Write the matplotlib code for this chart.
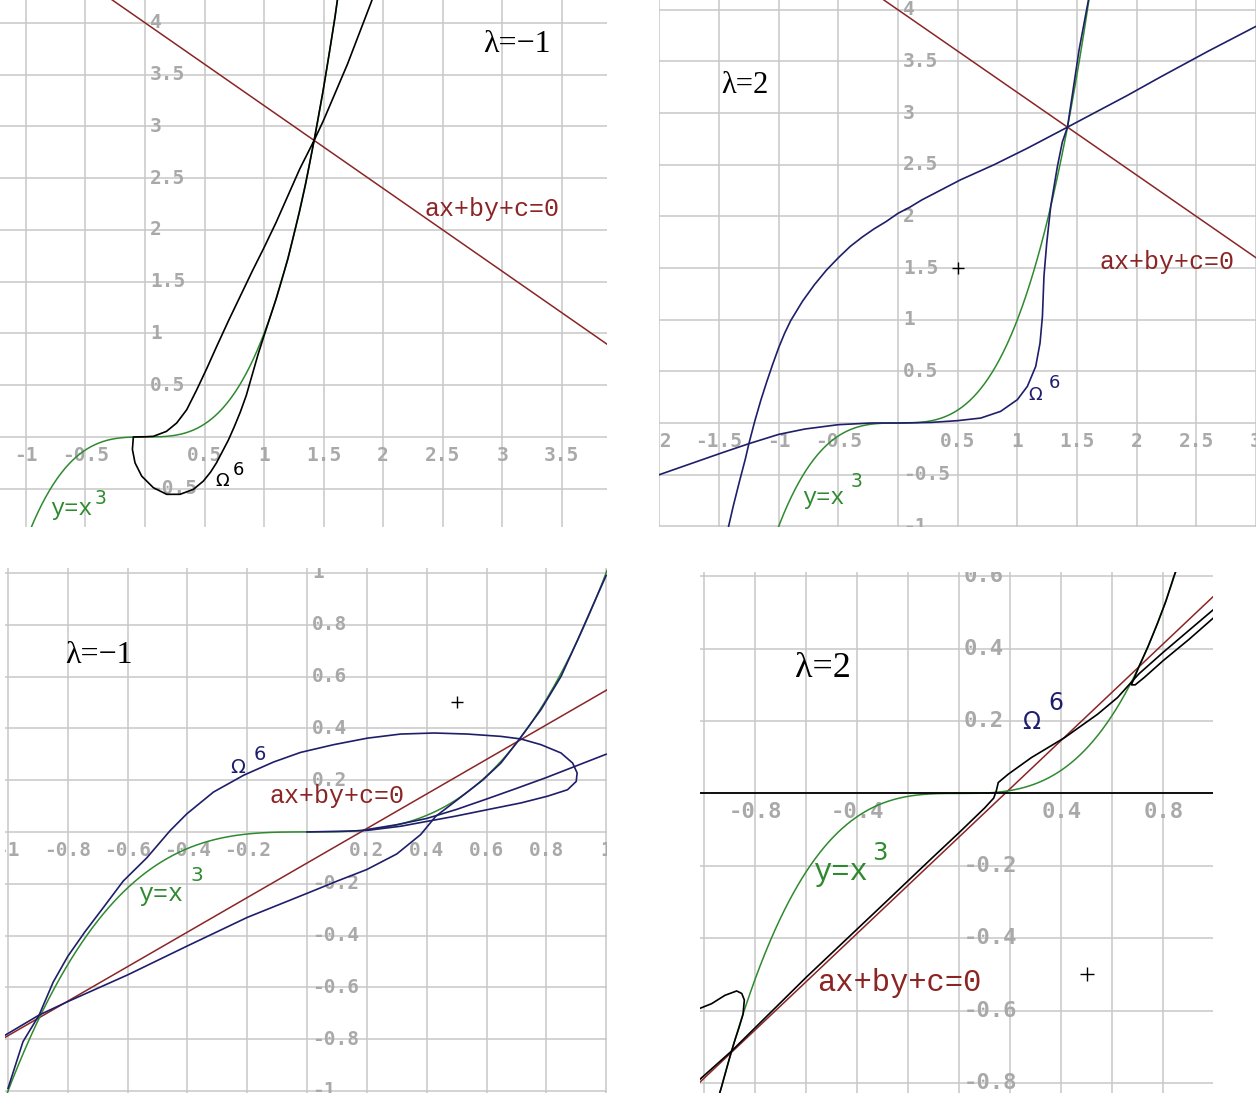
import numpy as np
import matplotlib
matplotlib.use("Agg")
import matplotlib.pyplot as plt

GRID = "#c8c8c8"
TICK = "#a9a9a9"
GREEN = "#2f8a2f"
RED = "#8b2525"
NAVY = "#1e1e6a"
MONO = "Liberation Mono"
SERIF = "Liberation Serif"

# the two straight lines a*x + b*y + c = 0
line_top = (4.0, 5.0, -20.0)
line_bottom = (2.0, -3.0, -0.36)

# ---- panel 1 : lambda = -1, large view ----
p1_xlim, p1_ylim = (-1.218, 3.88), (-0.87, 4.22)
p1_xticks = [-1, -0.5, 0.5, 1, 1.5, 2, 2.5, 3, 3.5]
p1_yticks = [4, 3.5, 3, 2.5, 2, 1.5, 1, 0.5, -0.5]
p1_omega_x = [1.625, 1.595, 1.545, 1.495, 1.42, 1.35, 1.298, 1.2, 1.1, 1.0,
              0.95, 0.9, 0.85, 0.8, 0.75, 0.7, 0.65, 0.6, 0.55, 0.49, 0.406, 0.294,
              0.182, 0.07, -0.028, -0.084, -0.106, -0.098, 0.0, 0.07, 0.18, 0.266,
              0.35, 0.434, 0.518, 0.6, 0.7, 0.8, 0.9, 1.0, 1.1, 1.2, 1.3, 1.42,
              1.5, 1.6, 1.7, 1.8, 1.9, 1.93]
p1_omega_y = [4.3, 4.05, 3.69, 3.34, 2.864, 2.45, 2.18, 1.72, 1.33, 0.98,
              0.8, 0.6, 0.4, 0.24, 0.1, -0.03, -0.14, -0.25, -0.34, -0.426, -0.506, -0.554,
              -0.554, -0.49, -0.378, -0.25, -0.12, 0.0, 0.002, 0.006, 0.054, 0.135,
              0.263, 0.455, 0.66, 0.87, 1.12, 1.36, 1.6, 1.83, 2.07, 2.33, 2.59, 2.864,
              3.06, 3.33, 3.6, 3.9, 4.2, 4.3]

# ---- panel 2 : lambda = 2, large view ----
p2_xlim, p2_ylim = (-2.003, 3.0), (-1.007, 4.095)
p2_xticks = [-2, -1.5, -1, -0.5, 0.5, 1, 1.5, 2, 2.5, 3]
p2_yticks = [4, 3.5, 3, 2.5, 2, 1.5, 1, 0.5, -0.5, -1]
p2_lower_x = [-2.0, -1.76, -1.48, -1.25, -1.0, -0.78, -0.5, -0.22, 0.0, 0.28, 0.5,
              0.693, 0.86, 1.0, 1.084, 1.154, 1.19, 1.21, 1.223, 1.246, 1.28,
              1.335, 1.377, 1.42, 1.46, 1.517, 1.564, 1.6]
p2_lower_y = [-0.5, -0.403, -0.29, -0.2, -0.11, -0.058, -0.016, 0.0, 0.0, 0.006,
              0.023, 0.048, 0.113, 0.226, 0.355, 0.548, 0.774, 1.03, 1.42, 1.74,
              2.1, 2.48, 2.72, 2.864, 3.17, 3.61, 3.9, 4.12]
p2_upper_x = [-1.43, -1.38, -1.33, -1.28, -1.25, -1.2, -1.15, -1.1, -1.05, -1.0,
              -0.95, -0.9, -0.8, -0.7, -0.6, -0.5, -0.4, -0.3, -0.2, -0.1, 0.0,
              0.1, 0.2, 0.3, 0.4, 0.525, 0.804, 1.084, 1.42, 1.642, 1.92, 2.2, 2.6, 3.0]
p2_upper_y = [-1.05, -0.8, -0.57, -0.35, -0.2, 0.02, 0.22, 0.4, 0.57, 0.73,
              0.87, 0.99, 1.18, 1.34, 1.48, 1.6, 1.71, 1.8, 1.88, 1.95, 2.03,
              2.09, 2.16, 2.22, 2.28, 2.355, 2.5, 2.66, 2.864, 3.0, 3.17, 3.35, 3.6, 3.84]
p2_point = (0.5, 1.5)

# ---- panel 3 : lambda = -1, close view ----
p3_xlim, p3_ylim = (-1.01, 1.003), (-1.008, 1.019)
p3_xticks = [-1, -0.8, -0.6, -0.4, -0.2, 0.2, 0.4, 0.6, 0.8, 1]
p3_yticks = [1, 0.8, 0.6, 0.4, 0.2, -0.2, -0.4, -0.6, -0.8, -1]
p3_arc_x = [-1.0, -0.95, -0.896, -0.849, -0.8, -0.743, -0.68, -0.615, -0.536, -0.458,
            -0.402, -0.313, -0.212, -0.112, -0.022, 0.089, 0.201, 0.313, 0.425,
            0.536, 0.648, 0.715, 0.782, 0.849, 0.888, 0.903, 0.9, 0.871, 0.804,
            0.715, 0.603, 0.492, 0.402, 0.313, 0.201, 0.134, 0.0]
p3_arc_y = [-0.99, -0.81, -0.707, -0.58, -0.48, -0.386, -0.29, -0.19, -0.1, 0.005,
            0.07, 0.154, 0.219, 0.27, 0.307, 0.337, 0.362, 0.378, 0.382,
            0.378, 0.369, 0.359, 0.337, 0.305, 0.266, 0.228, 0.195, 0.163, 0.138,
            0.112, 0.086, 0.06, 0.041, 0.022, 0.006, 0.003, 0.0]
p3_low_x = [-1.01, -0.896, -0.8, -0.6, -0.4, -0.2, 0.0, 0.1, 0.2, 0.3, 0.38, 0.43,
            0.5, 0.587, 0.648, 0.704, 0.782, 0.849, 0.905, 0.95, 1.0]
p3_low_y = [-0.785, -0.707, -0.655, -0.552, -0.44, -0.33, -0.237, -0.19, -0.145,
            -0.085, -0.01, 0.06, 0.122, 0.2, 0.266, 0.349, 0.472, 0.6, 0.742, 0.86, 0.99]
p3_ray_x = [0.189, 0.3, 0.4, 0.5, 0.6, 0.7, 0.8, 0.9, 1.0]
p3_ray_y = [0.007, 0.028, 0.052, 0.087, 0.127, 0.168, 0.21, 0.255, 0.3]
p3_point = (0.5, 0.5)

# ---- panel 4 : lambda = 2, close view ----
p4_xlim, p4_ylim = (-1.017, 0.995), (-0.828, 0.612)
p4_xticks = [-0.8, -0.4, 0.4, 0.8]
p4_yticks = [0.6, 0.4, 0.2, -0.2, -0.4, -0.6, -0.8]
p4_hook_l_x = [-1.017, -0.971, -0.919, -0.873, -0.853, -0.843, -0.848, -0.865, -0.88,
               -0.893, -0.906, -0.932, -0.945]
p4_hook_l_y = [-0.594, -0.581, -0.558, -0.546, -0.553, -0.571, -0.61, -0.65, -0.682,
               -0.712, -0.744, -0.81, -0.84]
p4_hook_r_x = [0.997, 0.9, 0.8, 0.725, 0.69, 0.675, 0.69, 0.704, 0.74, 0.777, 0.81,
               0.842, 0.855]
p4_hook_r_y = [0.485, 0.425, 0.367, 0.32, 0.3, 0.3, 0.325, 0.349, 0.405, 0.469, 0.53,
               0.6, 0.625]
p4_band_x = [-1.017, -0.893, -0.6, -0.3, -0.106, 0.0, 0.1, 0.135, 0.145, 0.153, 0.192,
             0.283, 0.413, 0.543, 0.621, 0.704, 0.8, 0.9, 0.997]
p4_band_y = [-0.79, -0.712, -0.508, -0.308, -0.178, -0.108, -0.04, -0.013, 0.006, 0.03,
             0.053, 0.099, 0.154, 0.219, 0.265, 0.33, 0.39, 0.45, 0.508]
p4_flat_x = [-1.017, 0.995]
p4_flat_y = [0.0, 0.0]
p4_point = (0.5, -0.5)


def fmt(v):
    return ("%g" % v)


def base_axes(fig, rect, xlim, ylim, step_x, step_y, xticks, yticks, fs):
    ax = fig.add_axes(rect)
    ax.set_xlim(*xlim)
    ax.set_ylim(*ylim)
    gx = np.arange(np.ceil(xlim[0] / step_x - 1e-6) * step_x, xlim[1] + 1e-9, step_x)
    gy = np.arange(np.ceil(ylim[0] / step_y - 1e-6) * step_y, ylim[1] + 1e-9, step_y)
    for v in gx:
        ax.axvline(v, color=GRID, lw=1.1, zorder=0)
    for v in gy:
        ax.axhline(v, color=GRID, lw=1.1, zorder=0)
    ax.set_xticks([])
    ax.set_yticks([])
    for s in ax.spines.values():
        s.set_visible(False)
    for v in xticks:
        ax.annotate(fmt(v), xy=(v, 0), xytext=(0, -13.5), textcoords="offset points",
                    ha="center", va="center", fontsize=fs, family="DejaVu Sans Mono",
                    fontweight="bold", color=TICK, annotation_clip=False, clip_on=True,
                    zorder=1)
    for v in yticks:
        ax.annotate(fmt(v), xy=(0, v), xytext=(3.5, 0), textcoords="offset points",
                    ha="left", va="center", fontsize=fs, family="DejaVu Sans Mono",
                    fontweight="bold", color=TICK, annotation_clip=False, clip_on=True,
                    zorder=1)
    return ax


def draw_line(ax, coef, xlim):
    a, b, c = coef
    xs = np.array(xlim)
    ax.plot(xs, -(a * xs + c) / b, color=RED, lw=1.1, zorder=2)


def draw_cubic(ax, xlim):
    xs = np.linspace(xlim[0], xlim[1], 800)
    ax.plot(xs, xs ** 3, color=GREEN, lw=1.1, zorder=3)


def labels(ax, lam, lam_xy, lam_fs, eq_xy, eq_fs, om_xy, six_xy, om_fs, om_col,
           cub_xy, three_xy, cub_fs):
    ax.text(*lam_xy, lam, family=SERIF, fontsize=lam_fs, ha="left", va="center",
            color="black", zorder=6)
    ax.text(*eq_xy, "ax+by+c=0", family=MONO, fontsize=eq_fs, ha="left", va="center",
            color=RED, zorder=6)
    ax.text(*om_xy, "\u03a9", family="DejaVu Sans", fontsize=om_fs, ha="left",
            va="center", color=om_col, zorder=6)
    ax.text(*six_xy, "6", family="DejaVu Sans", fontsize=om_fs, ha="left",
            va="center", color=om_col, zorder=6)
    ax.text(*cub_xy, "y=x", family=MONO, fontsize=cub_fs, ha="left", va="center",
            color=GREEN, zorder=6)
    ax.text(*three_xy, "3", family="DejaVu Sans", fontsize=cub_fs * 0.8, ha="left",
            va="center", color=GREEN, zorder=6)


fig = plt.figure(figsize=(12.56, 10.93), dpi=100)

# panel 1
ax1 = base_axes(fig, [0.0, 0.5178, 0.4833, 0.4822], p1_xlim, p1_ylim, 0.5, 0.5,
                p1_xticks, p1_yticks, 14)
draw_line(ax1, line_top, p1_xlim)
draw_cubic(ax1, p1_xlim)
ax1.plot(p1_omega_x, p1_omega_y, color="black", lw=1.2, zorder=4)
labels(ax1, "\u03bb=\u22121", (2.84, 3.79), 23, (2.35, 2.2), 18,
       (0.59, -0.43), (0.74, -0.32), 13, "black",
       (-0.8, -0.69), (-0.42, -0.59), 17)

# panel 2
ax2 = base_axes(fig, [0.5247, 0.5178, 0.4753, 0.4822], p2_xlim, p2_ylim, 0.5, 0.5,
                p2_xticks, p2_yticks, 14)
draw_line(ax2, line_top, p2_xlim)
draw_cubic(ax2, p2_xlim)
ax2.plot(p2_lower_x, p2_lower_y, color=NAVY, lw=1.2, zorder=4)
ax2.plot(p2_upper_x, p2_upper_y, color=NAVY, lw=1.2, zorder=4)
ax2.plot(*p2_point, marker="+", ms=9, mew=1.0, color="black", zorder=5)
labels(ax2, "\u03bb=2", (-1.48, 3.27), 22, (1.69, 1.56), 18,
       (1.09, 0.27), (1.26, 0.39), 13, NAVY,
       (-0.8, -0.72), (-0.4, -0.57), 17)

# panel 3
ax3 = base_axes(fig, [0.004, 0.0, 0.4793, 0.4803], p3_xlim, p3_ylim, 0.2, 0.2,
                p3_xticks, p3_yticks, 14)
draw_line(ax3, line_bottom, p3_xlim)
draw_cubic(ax3, p3_xlim)
ax3.plot(p3_arc_x, p3_arc_y, color=NAVY, lw=1.2, zorder=4)
ax3.plot(p3_low_x, p3_low_y, color=NAVY, lw=1.2, zorder=4)
ax3.plot(p3_ray_x, p3_ray_y, color=NAVY, lw=1.2, zorder=4)
ax3.plot(*p3_point, marker="+", ms=9, mew=1.0, color="black", zorder=5)
labels(ax3, "\u03bb=\u22121", (-0.81, 0.683), 23, (-0.125, 0.14), 18,
       (-0.258, 0.25), (-0.18, 0.3), 14, NAVY,
       (-0.565, -0.24), (-0.39, -0.17), 18)

# panel 4
ax4 = base_axes(fig, [0.5573, 0.0, 0.4084, 0.4767], p4_xlim, p4_ylim, 0.2, 0.2,
                p4_xticks, p4_yticks, 16)
draw_line(ax4, line_bottom, p4_xlim)
draw_cubic(ax4, p4_xlim)
ax4.plot(p4_flat_x, p4_flat_y, color="black", lw=1.3, zorder=4)
ax4.plot(p4_hook_l_x, p4_hook_l_y, color="black", lw=1.2, zorder=4)
ax4.plot(p4_hook_r_x, p4_hook_r_y, color="black", lw=1.2, zorder=4)
ax4.plot(p4_band_x, p4_band_y, color="black", lw=1.2, zorder=4)
ax4.plot(*p4_point, marker="+", ms=10, mew=1.0, color="black", zorder=5)
labels(ax4, "\u03bb=2", (-0.644, 0.346), 26, (-0.557, -0.525), 22,
       (0.246, 0.197), (0.35, 0.25), 17, NAVY,
       (-0.573, -0.218), (-0.34, -0.165), 22)

fig.savefig("out.png", dpi=100, facecolor="white")
